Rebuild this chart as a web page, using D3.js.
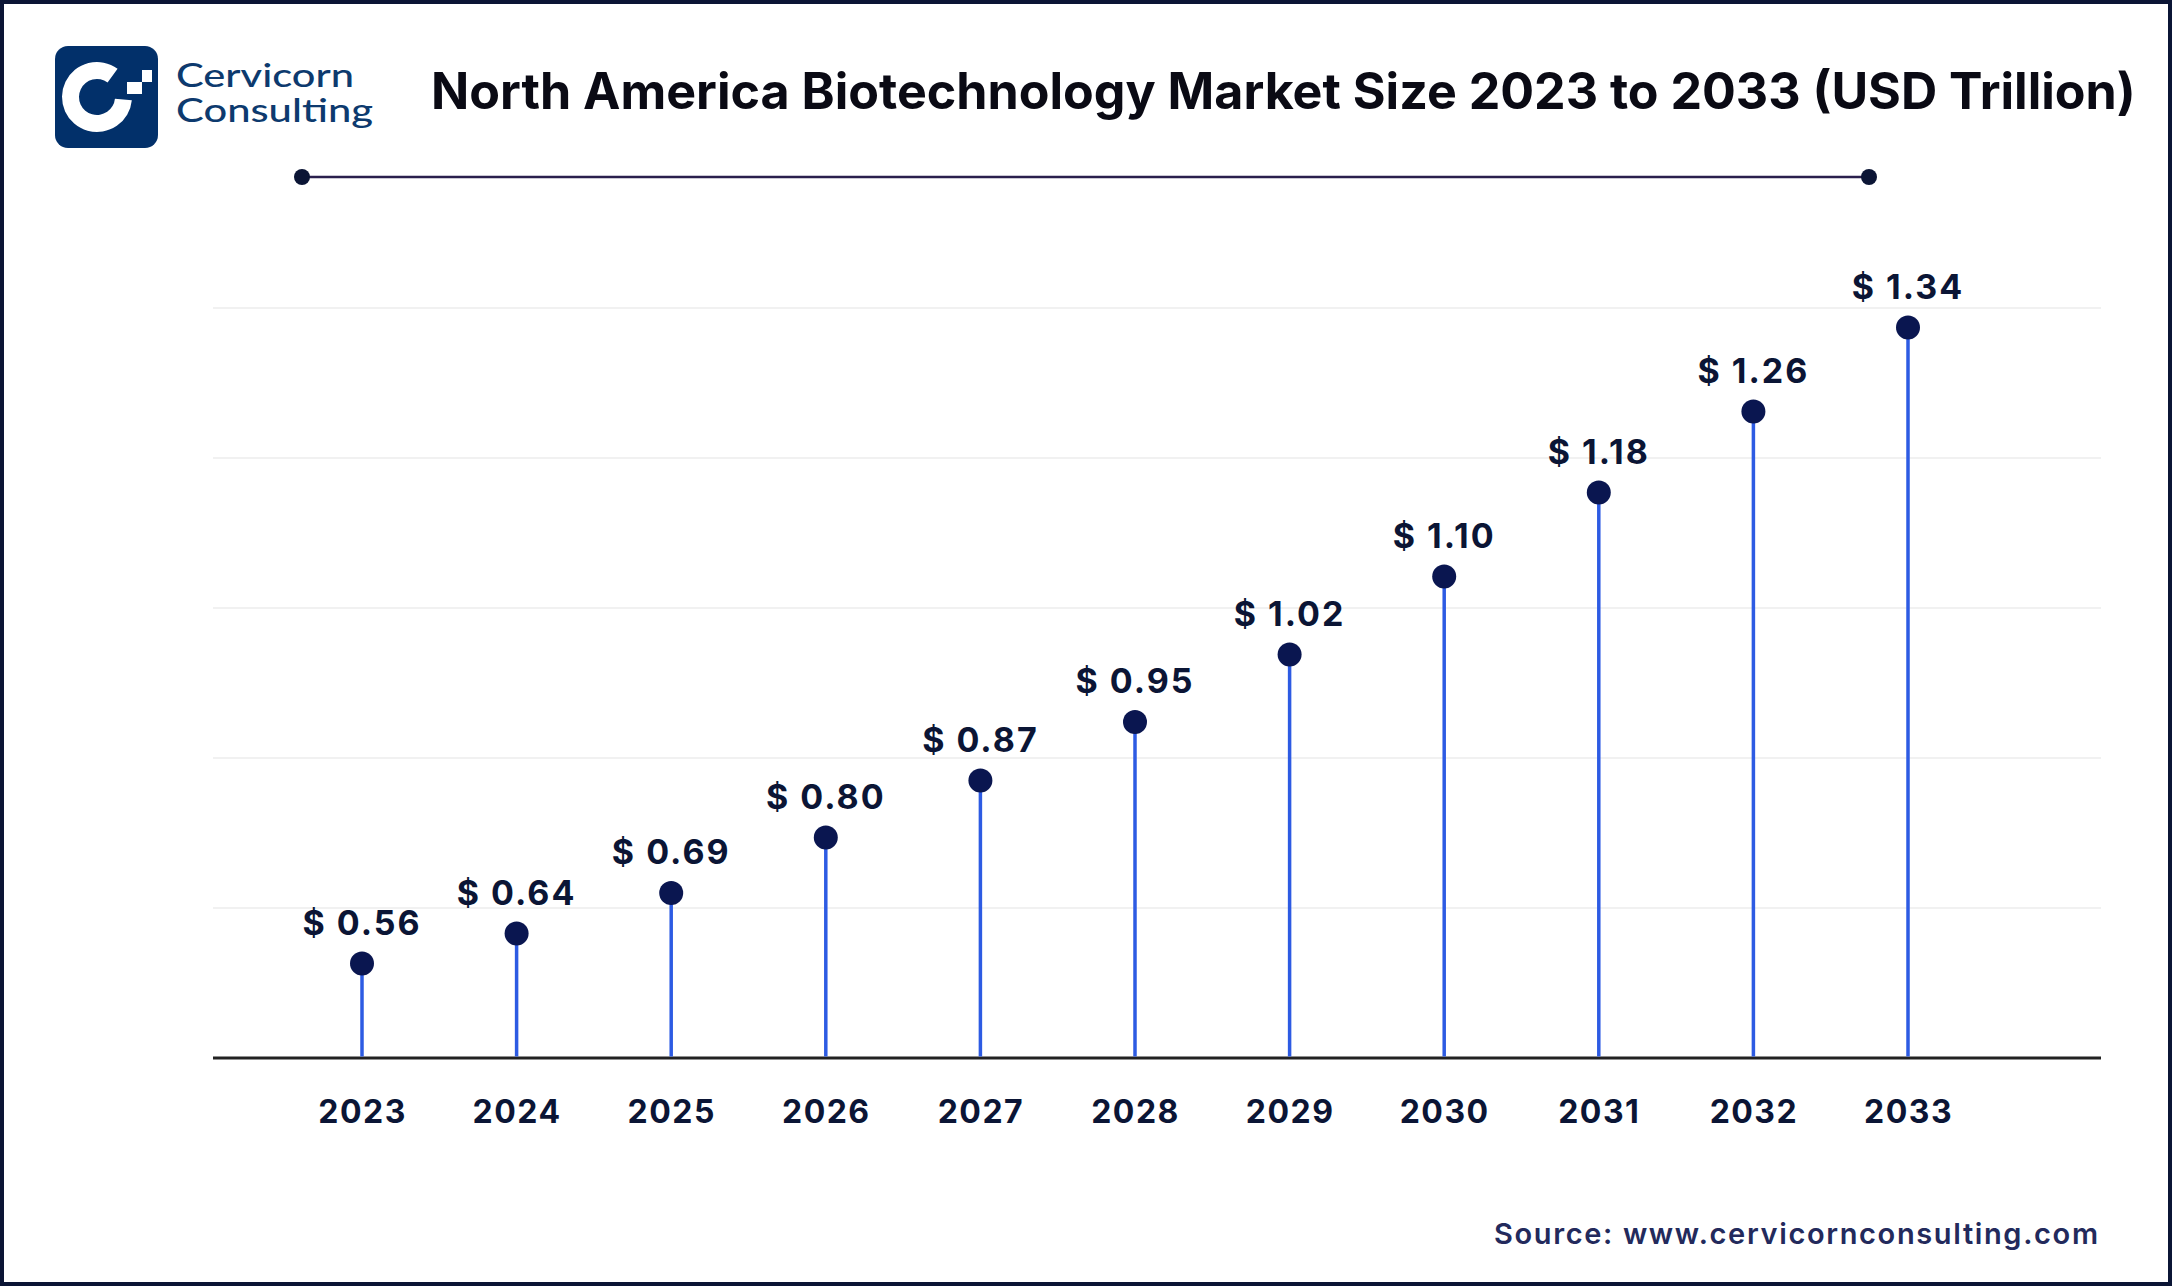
<!DOCTYPE html>
<html>
<head>
<meta charset="utf-8">
<script src="https://cdn.jsdelivr.net/npm/d3@7"></script>
<style>
  html, body { margin: 0; padding: 0; background: #fff; }
  svg { display: block; }
</style>
</head>
<body>
<div id="vis"></div>
<script>
const W = 2172;
const H = 1286;

// Chart data
const years = ["2023", "2024", "2025", "2026", "2027", "2028", "2029", "2030", "2031", "2032", "2033"];
// value printed above each marker (USD trillion)
const marketSize = [0.56, 0.64, 0.69, 0.80, 0.87, 0.95, 1.02, 1.10, 1.18, 1.26, 1.34];
// marker height as drawn in the picture, in gridline steps above the baseline
const markerLevel = [0.63, 0.83, 1.10, 1.47, 1.85, 2.24, 2.69, 3.21, 3.77, 4.31, 4.87];
const gridLevels = [1, 2, 3, 4, 5];

const titleText = "North America Biotechnology Market Size 2023 to 2033 (USD Trillion)";
const sourceText = "Source: www.cervicornconsulting.com";

// Plot box
const plot = { left: 213, right: 2101, top: 308, bottom: 1058 };

const svg = d3.select("#vis")
  .append("svg")
  .attr("width", W)
  .attr("height", H);

svg.append("rect")
  .attr("width", W).attr("height", H)
  .attr("fill", "#fff");

// Frame
svg.append("rect")
  .attr("x", 2).attr("y", 2)
  .attr("width", W - 4).attr("height", H - 4)
  .attr("fill", "none")
  .attr("stroke", "#0b1535")
  .attr("stroke-width", 4);

// Logo
const logo = svg.append("g").attr("class", "logo");
logo.append("rect")
  .attr("x", 55).attr("y", 46)
  .attr("width", 103).attr("height", 102)
  .attr("rx", 13)
  .attr("fill", "#02306a");

logo.append("path")
  .attr("transform", "translate(97,97)")
  .attr("d", d3.arc()
    .innerRadius(18)
    .outerRadius(35)
    .startAngle(Math.PI * 0.53)
    .endAngle(Math.PI * 2.2)())
  .attr("fill", "#fff");

logo.append("rect").attr("x", 127).attr("y", 82).attr("width", 15).attr("height", 12).attr("fill", "#fff");
logo.append("rect").attr("x", 142).attr("y", 70).attr("width", 10).attr("height", 12).attr("fill", "#fff");

logo.append("text")
  .attr("x", 176).attr("y", 87)
  .attr("font-family", "Lato, 'Open Sans', sans-serif")
  .attr("font-size", 32)
  .attr("font-weight", 500)
  .attr("fill", "#0d3a6e")
  .attr("textLength", 178)
  .attr("lengthAdjust", "spacingAndGlyphs")
  .text("Cervicorn");

logo.append("text")
  .attr("x", 176).attr("y", 122)
  .attr("font-family", "Lato, 'Open Sans', sans-serif")
  .attr("font-size", 32)
  .attr("font-weight", 500)
  .attr("fill", "#0d3a6e")
  .attr("textLength", 197)
  .attr("lengthAdjust", "spacingAndGlyphs")
  .text("Consulting");

// Title: size the font so the line spans the same width as the reference
const titleWidth = 1705;
const title = svg.append("text")
  .attr("x", 431).attr("y", 109)
  .attr("font-family", "Inter, Roboto, sans-serif")
  .attr("font-size", 52)
  .attr("font-weight", 700)
  .attr("fill", "#0a0a14")
  .text(titleText);
const natural = title.node().getComputedTextLength();
title.attr("font-size", Math.min(54, 52 * titleWidth / natural));

// Decorative rule under the title
svg.append("line")
  .attr("x1", 302).attr("x2", 1869)
  .attr("y1", 177).attr("y2", 177)
  .attr("stroke", "#2a1f4d")
  .attr("stroke-width", 2.5);
svg.selectAll(".rule-dot")
  .data([302, 1869])
  .join("circle")
  .attr("class", "rule-dot")
  .attr("cx", d => d).attr("cy", 177)
  .attr("r", 8)
  .attr("fill", "#0b1535");

// Scales
const x = d3.scalePoint()
  .domain(years)
  .range([362, 1908]);

const y = d3.scaleLinear()
  .domain([0, 5])
  .range([plot.bottom, plot.top]);

// Gridlines
svg.append("g")
  .selectAll("line")
  .data(gridLevels)
  .join("line")
  .attr("x1", plot.left).attr("x2", plot.right)
  .attr("y1", d => y(d)).attr("y2", d => y(d))
  .attr("stroke", "#f1f1f1")
  .attr("stroke-width", 2);

// X axis
const xAxis = svg.append("g")
  .attr("transform", `translate(0,${plot.bottom})`)
  .call(d3.axisBottom(x).tickSize(0).tickPadding(42));
xAxis.select(".domain").remove();
xAxis.selectAll("text")
  .attr("font-family", "Inter, Roboto, sans-serif")
  .attr("font-size", 32)
  .attr("font-weight", 700)
  .attr("letter-spacing", "1.5px")
  .attr("fill", "#0b1535");

svg.append("line")
  .attr("x1", plot.left).attr("x2", plot.right)
  .attr("y1", plot.bottom).attr("y2", plot.bottom)
  .attr("stroke", "#222")
  .attr("stroke-width", 3);

const rows = years.map((yr, i) => ({ year: yr, value: marketSize[i], level: markerLevel[i] }));

// Stems
svg.append("g")
  .selectAll("line")
  .data(rows)
  .join("line")
  .attr("x1", d => x(d.year)).attr("x2", d => x(d.year))
  .attr("y1", plot.bottom - 1.5)
  .attr("y2", d => y(d.level))
  .attr("stroke", "#2d5be3")
  .attr("stroke-width", 3.5);

// Markers
svg.append("g")
  .selectAll("circle")
  .data(rows)
  .join("circle")
  .attr("cx", d => x(d.year))
  .attr("cy", d => y(d.level))
  .attr("r", 12)
  .attr("fill", "#0a1650");

// Value labels
svg.append("g")
  .selectAll("text")
  .data(rows)
  .join("text")
  .attr("x", d => x(d.year))
  .attr("y", d => y(d.level) - 29)
  .attr("text-anchor", "middle")
  .attr("font-family", "Inter, Roboto, sans-serif")
  .attr("font-size", 34)
  .attr("font-weight", 700)
  .attr("letter-spacing", "2px")
  .attr("fill", "#0b1535")
  .text(d => `$ ${d.value.toFixed(2)}`);

// Source
svg.append("text")
  .attr("x", 2098).attr("y", 1244)
  .attr("text-anchor", "end")
  .attr("font-family", "Inter, Roboto, sans-serif")
  .attr("font-size", 29)
  .attr("font-weight", 600)
  .attr("fill", "#232a5c")
  .attr("textLength", 604)
  .attr("lengthAdjust", "spacing")
  .text(sourceText);
</script>
</body>
</html>
